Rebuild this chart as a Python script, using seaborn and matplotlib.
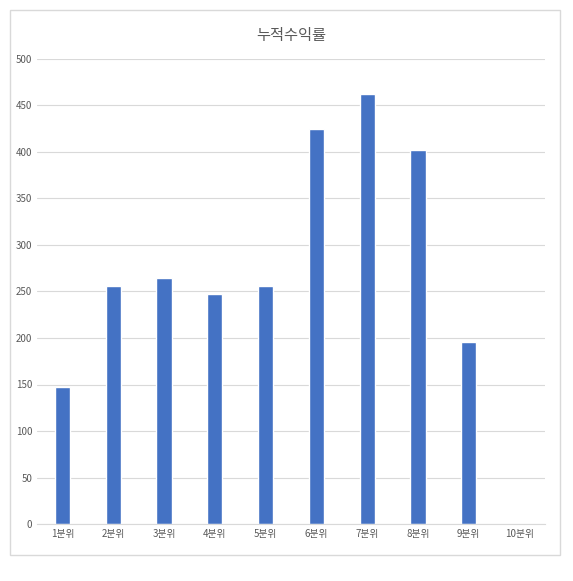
import matplotlib.pyplot as plt
import matplotlib.patches as mpatches
import seaborn as sns
import pandas as pd

categories = ['1분위', '2분위', '3분위', '4분위', '5분위', '6분위', '7분위', '8분위', '9분위', '10분위']
returns = [147, 256, 265, 247, 256, 425, 462, 402, 196, 0]

sns.set_style('white')
plt.rcParams['font.family'] = ['Noto Sans CJK KR', 'DejaVu Sans']

df = pd.DataFrame({'quantile': categories, 'return': returns})

fig = plt.figure(figsize=(5.73, 5.81), dpi=100)
fig.patch.set_facecolor('white')
# chart border
fig.patches.append(mpatches.Rectangle((10 / 573, 26 / 581), 550 / 573, 545 / 581,
                                      transform=fig.transFigure, fill=False,
                                      edgecolor='#d9d9d9', linewidth=1))
ax = fig.add_axes([37 / 573, 57 / 581, 508 / 573, 465 / 581])
sns.barplot(data=df, x='quantile', y='return', color='#4472c4', width=0.3,
            saturation=1, ax=ax)
ax.set_ylim(0, 500)
ax.set_yticks(range(0, 501, 50))
ax.yaxis.grid(True, color='#d9d9d9', linewidth=0.8)
ax.set_axisbelow(True)
for s in ['top', 'right', 'left']:
    ax.spines[s].set_visible(False)
ax.spines['bottom'].set_color('#d9d9d9')
ax.tick_params(axis='both', labelsize=7, colors='#595959', length=0)
ax.set_xlabel('')
ax.set_ylabel('')
ax.set_title('누적수익률', fontsize=11, color='#595959', pad=14)
fig.savefig('out.png', dpi=100)
